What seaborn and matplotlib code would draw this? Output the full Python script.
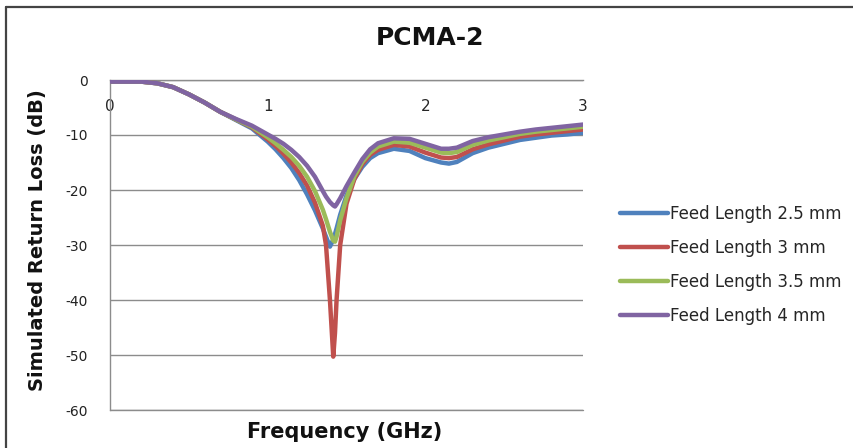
import matplotlib
matplotlib.use("Agg")
import matplotlib.pyplot as plt
import pandas as pd
import seaborn as sns
from matplotlib.lines import Line2D

# Simulated return loss (dB) versus frequency (GHz) for four feed lengths
freq_ghz = [0.0, 0.1, 0.2, 0.3, 0.4, 0.5, 0.6, 0.7, 0.8, 0.9,
            1.0, 1.05, 1.1, 1.15, 1.2, 1.25, 1.3, 1.35, 1.37, 1.395,
            1.416, 1.427, 1.437, 1.46, 1.5, 1.55, 1.6, 1.65, 1.7, 1.8,
            1.9, 2.0, 2.1, 2.15, 2.2, 2.3, 2.4, 2.5, 2.6, 2.7,
            2.8, 2.9, 3.0]

loss_2_5mm = [-0.3, -0.3, -0.3, -0.6, -1.3, -2.6, -4.1, -5.8, -7.3, -8.8,
              -11.2, -12.6, -14.2, -16.0, -18.2, -20.8, -23.7, -27.0, -28.5, -30.3,
              -29.0, -28.0, -27.0, -24.5, -21.0, -18.0, -15.8, -14.2, -13.3, -12.5,
              -12.9, -14.2, -15.0, -15.2, -14.9, -13.3, -12.3, -11.6, -10.9, -10.5,
              -10.1, -9.9, -9.6]

loss_3mm = [-0.3, -0.3, -0.3, -0.6, -1.3, -2.6, -4.1, -5.8, -7.2, -8.6,
            -10.8, -12.0, -13.4, -15.0, -16.9, -19.2, -22.3, -26.5, -30.0, -40.0,
            -50.3, -46.0, -40.0, -30.0, -22.5, -18.0, -15.3, -13.6, -12.7, -11.8,
            -12.1, -13.2, -14.1, -14.2, -14.0, -12.6, -11.7, -11.0, -10.3, -9.9,
            -9.6, -9.3, -9.0]

loss_3_5mm = [-0.3, -0.3, -0.3, -0.6, -1.3, -2.6, -4.1, -5.8, -7.2, -8.5,
              -10.4, -11.5, -12.7, -14.0, -15.6, -17.6, -20.2, -23.6, -25.3, -27.6,
              -29.2, -29.4, -28.5, -25.5, -21.5, -17.5, -14.9, -13.2, -12.1, -11.2,
              -11.4, -12.3, -13.2, -13.3, -13.1, -11.8, -11.0, -10.4, -9.8, -9.4,
              -9.1, -8.8, -8.5]

loss_4mm = [-0.3, -0.3, -0.3, -0.6, -1.3, -2.6, -4.1, -5.8, -7.1, -8.3,
            -9.9, -10.7, -11.6, -12.7, -14.0, -15.6, -17.6, -20.2, -21.2, -22.2,
            -22.8, -23.0, -22.6, -21.5, -19.3, -16.8, -14.4, -12.6, -11.5, -10.6,
            -10.7, -11.6, -12.5, -12.5, -12.3, -11.1, -10.4, -9.9, -9.4, -9.0,
            -8.7, -8.4, -8.1]

series_labels = ["Feed Length 2.5 mm", "Feed Length 3 mm",
                 "Feed Length 3.5 mm", "Feed Length 4 mm"]
series_values = [loss_2_5mm, loss_3mm, loss_3_5mm, loss_4mm]
series_colors = ["#4F81BD", "#C0504D", "#9BBB59", "#8064A2"]

y_ticks = [0, -10, -20, -30, -40, -50, -60]
x_ticks = [0, 1, 2, 3]

rows = []
for label, values in zip(series_labels, series_values):
    for f, v in zip(freq_ghz, values):
        rows.append({"Frequency": f, "Loss": v, "Series": label})
df = pd.DataFrame(rows)

sns.set_theme(style="white")
plt.rcParams["font.family"] = ["DejaVu Sans"]

W, H = 854, 448
fig = plt.figure(figsize=(W / 100, H / 100), dpi=100)
ax = fig.add_axes([110 / W, 1 - 410 / H, 473 / W, 330 / H])

sns.lineplot(data=df, x="Frequency", y="Loss", hue="Series",
             hue_order=series_labels, palette=series_colors,
             linewidth=3.2, errorbar=None, sort=False, ax=ax, zorder=3)
for line in ax.lines:
    line.set_solid_joinstyle("round")
    line.set_solid_capstyle("round")

ax.set_xlim(0, 3)
ax.set_ylim(-60, 0)
ax.set_yticks(y_ticks)
ax.set_yticklabels([str(t) for t in y_ticks], fontsize=10, color="#222222")
ax.set_xticks(x_ticks)
ax.set_xticklabels([str(t) for t in x_ticks], fontsize=10, color="#222222")

# horizontal gridlines, left axis line, and category axis crossing at 0 dB
ax.yaxis.grid(True, color="#8c8c8c", linewidth=1.0)
ax.xaxis.grid(False)
ax.axhline(-60, color="#8c8c8c", linewidth=1.0, clip_on=False, zorder=1)
for side in ("top", "right"):
    ax.spines[side].set_visible(False)
ax.spines["left"].set_color("#8c8c8c")
ax.spines["left"].set_linewidth(1.0)
ax.spines["bottom"].set_position(("data", 0))
ax.spines["bottom"].set_color("#8c8c8c")
ax.spines["bottom"].set_linewidth(1.0)
ax.tick_params(axis="x", length=0, pad=14)
ax.tick_params(axis="y", length=0, pad=16)

ax.set_xlabel("")
ax.set_ylabel("")
fig.text(345 / W, 1 - 432 / H, "Frequency (GHz)", ha="center", va="center",
         fontsize=15, fontweight="bold", color="#111111")
fig.text(38 / W, 1 - 240 / H, "Simulated Return Loss (dB)", ha="center",
         va="center", rotation=90, fontsize=14, fontweight="bold",
         color="#111111")
fig.text(430 / W, 1 - 38 / H, "PCMA-2", ha="center", va="center",
         fontsize=18, fontweight="bold", color="#111111")

handles, labels = ax.get_legend_handles_labels()
pairs = [(h, l) for h, l in zip(handles, labels) if l in series_labels]
ax.legend([p[0] for p in pairs], [p[1] for p in pairs],
          loc="center left", bbox_to_anchor=(620 / W, 1 - 265 / H),
          bbox_transform=fig.transFigure, frameon=False, fontsize=12,
          handlelength=2.9, handletextpad=0.1, labelspacing=0.97,
          borderpad=0, borderaxespad=0)

# chart frame: top and left edges
fig.add_artist(Line2D([6 / W, 1], [1 - 7 / H, 1 - 7 / H],
                      transform=fig.transFigure, color="#444444", linewidth=1.6))
fig.add_artist(Line2D([6 / W, 6 / W], [0, 1 - 7 / H],
                      transform=fig.transFigure, color="#444444", linewidth=1.6))

fig.savefig("out.png", dpi=100)
